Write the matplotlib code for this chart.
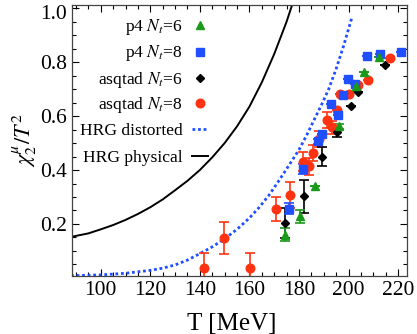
import matplotlib
matplotlib.use("Agg")
import matplotlib.pyplot as plt
from matplotlib.ticker import MultipleLocator
from matplotlib.transforms import ScaledTranslation

plt.rcParams['font.family'] = ['Liberation Serif', 'DejaVu Serif']
plt.rcParams['mathtext.fontset'] = 'stix'

# ---- data ----
# p4 Nt=6 (green triangles)
p4n6_T = [174.5, 180.4, 186.4, 196.1, 203.2, 206.2, 212.4]
p4n6_y = [0.160, 0.228, 0.342, 0.562, 0.712, 0.762, 0.819]
p4n6_e = [0.025, 0.025, 0.0, 0.01, 0.0, 0.0, 0.0]

# p4 Nt=8 (blue squares)
p4n8_T = [175.9, 181.5, 187.8, 189.2, 192.9, 195.6, 197.8, 199.6, 202.6, 207.6, 212.6, 221.1]
p4n8_y = [0.256, 0.404, 0.506, 0.533, 0.644, 0.605, 0.679, 0.738, 0.720, 0.823, 0.831, 0.839]
p4n8_e = [0.02, 0.02, 0.01, 0.0, 0.0, 0.0, 0.0, 0.0, 0.0, 0.0, 0.0, 0.0]

# asqtad Nt=6 (black diamonds)
asq6_T = [174.3, 182.0, 189.2, 195.4, 200.8, 203.9, 214.7]
asq6_y = [0.204, 0.302, 0.449, 0.541, 0.636, 0.690, 0.788]
asq6_e = [0.055, 0.062, 0.035, 0.02, 0.0, 0.0, 0.0]

# asqtad Nt=8 (red circles)
asq8_T = [141.8, 149.9, 160.2, 170.8, 176.5, 181.7, 184.0, 185.5, 188.0, 191.3, 193.4,
          195.4, 196.4, 200.3, 203.9, 207.7, 216.9]
asq8_y = [0.037, 0.148, 0.036, 0.256, 0.306, 0.430, 0.414, 0.463, 0.515, 0.584, 0.558,
          0.623, 0.683, 0.681, 0.716, 0.735, 0.814]
asq8_e = [0.056, 0.058, 0.055, 0.045, 0.048, 0.035, 0.032, 0.028, 0.03, 0.03, 0.025,
          0.0, 0.0, 0.0, 0.0, 0.0, 0.0]

# HRG curves
hrg_dist_T = [88, 100, 110, 120, 125, 130, 135, 140, 145, 150, 155, 160, 164, 168, 172,
              176, 180, 183, 186, 189, 192, 195, 198, 201.5]
hrg_dist_y = [0.008, 0.011, 0.017, 0.028, 0.036, 0.048, 0.066, 0.090, 0.115, 0.145, 0.180,
              0.222, 0.262, 0.308, 0.362, 0.418, 0.475, 0.527, 0.584, 0.640, 0.700, 0.775,
              0.860, 0.970]
hrg_phys_T = [88, 95, 100, 105, 110, 115, 120, 125, 130, 135, 140, 145, 150, 155, 160,
              165, 170, 175, 177.5]
hrg_phys_y = [0.152, 0.165, 0.180, 0.196, 0.215, 0.237, 0.262, 0.291, 0.325, 0.360, 0.400,
              0.447, 0.500, 0.562, 0.635, 0.725, 0.830, 0.950, 1.020]

labels = [r'p4 $N_t$=6', r'p4 $N_t$=8', r'asqtad $N_t$=6', r'asqtad $N_t$=8',
          'HRG distorted', 'HRG physical']

GREEN = '#1a9a1a'
BLUE = '#1f4fff'
RED = '#ff3312'
DOT = (0, (1.0, 1.0))

fig = plt.figure(figsize=(4.17, 3.34), dpi=100)
ax = fig.add_axes([0.1727, 0.1737, 0.8033, 0.8113])

ax.plot(hrg_dist_T, hrg_dist_y, color=BLUE, lw=2.0, linestyle=DOT, zorder=2)
ax.plot(hrg_phys_T, hrg_phys_y, color='black', lw=1.4, zorder=2)

eb = dict(capsize=3.4, elinewidth=1.2, capthick=1.2, linestyle='none', zorder=3)
ax.errorbar(asq8_T, asq8_y, yerr=asq8_e, fmt='o', color=RED, ms=6.2, **eb)
ax.errorbar(asq6_T, asq6_y, yerr=asq6_e, fmt='D', color='black', ms=4.5, **eb)
ax.errorbar(p4n8_T, p4n8_y, yerr=p4n8_e, fmt='s', color=BLUE, ms=5.6, **eb)
ax.errorbar(p4n6_T, p4n6_y, yerr=p4n6_e, fmt='^', color=GREEN, ms=5.5, **eb)

# legend, laid out by hand: right-aligned text with the key to its right
styles = [dict(marker='^', color=GREEN, ms=5.5, ls='none'),
          dict(marker='s', color=BLUE, ms=5.6, ls='none'),
          dict(marker='D', color='black', ms=4.5, ls='none'),
          dict(marker='o', color=RED, ms=6.2, ls='none'),
          dict(color=BLUE, lw=2.0, ls=DOT),
          dict(color='black', lw=1.4, ls='-')]
row_y = [0.926, 0.828, 0.730, 0.637, 0.542, 0.443]
text_x = 0.331
for lab, st, yy in zip(labels, styles, row_y):
    ax.text(text_x, yy - 0.021, lab, transform=ax.transAxes, ha='right', va='baseline',
            fontsize=12.6)
    if st.get('marker'):
        ax.plot([0.382], [yy], transform=ax.transAxes, clip_on=False, **st)
    else:
        ax.plot([0.358, 0.406], [yy, yy], transform=ax.transAxes, clip_on=False, **st)

ax.set_xlim(88.4, 223.6)
ax.set_ylim(0.007, 1.012)
ax.xaxis.set_major_locator(MultipleLocator(20))
ax.xaxis.set_minor_locator(MultipleLocator(5))
ax.yaxis.set_minor_locator(MultipleLocator(0.05))
ax.set_yticks([0.2, 0.4, 0.6, 0.8, 1.0])
ax.set_yticklabels(['0.2', '0.4', '0.6', '0.8', '1.0'])
ax.tick_params(which='both', direction='in', top=True, right=True, labelsize=15.5, width=0.8)
ax.tick_params(which='major', length=5)
ax.tick_params(which='minor', length=3)
for s in ax.spines.values():
    s.set_color('#444444')
    s.set_linewidth(0.9)

# keep the top tick label inside the figure
top_lab = ax.get_yticklabels()[-1]
top_lab.set_transform(top_lab.get_transform() + ScaledTranslation(0, -3 / 72, fig.dpi_scale_trans))

ax.set_xlabel('T [MeV]', fontsize=18, labelpad=7)
ax.xaxis.set_label_coords(0.478, -0.135)
ax.set_ylabel(r'$\chi_2^\mu/T^2$', fontsize=16, labelpad=1)

fig.savefig('out.png', dpi=100)
